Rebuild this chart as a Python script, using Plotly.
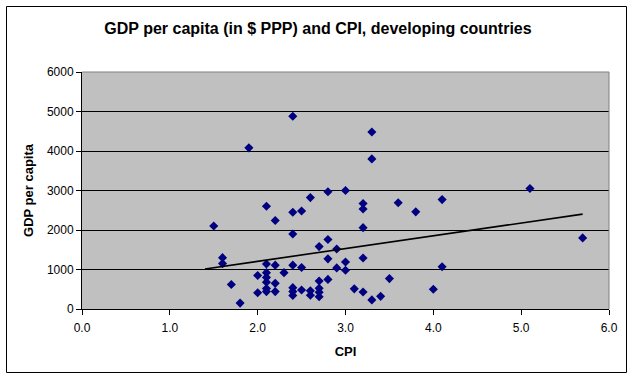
import numpy as np
import plotly.graph_objects as go

# CPI score and GDP per capita (in $ PPP)
cpi = [1.5, 1.6, 1.6, 1.7, 1.8, 1.9, 2.0, 2.0,
       2.1, 2.1, 2.1, 2.1, 2.1, 2.1, 2.1,
       2.2, 2.2, 2.2, 2.2, 2.3,
       2.4, 2.4, 2.4, 2.4, 2.4, 2.4, 2.4,
       2.5, 2.5, 2.5, 2.6, 2.6, 2.6,
       2.7, 2.7, 2.7, 2.7, 2.7,
       2.8, 2.8, 2.8, 2.8, 2.9, 2.9,
       3.0, 3.0, 3.0, 3.1,
       3.2, 3.2, 3.2, 3.2, 3.2,
       3.3, 3.3, 3.3, 3.4, 3.5, 3.6, 3.8,
       4.0, 4.1, 4.1, 5.1, 5.7]
gdp = [2100, 1300, 1150, 620, 150, 4080, 850, 410,
       2600, 1140, 920, 800, 680, 520, 440,
       2240, 1110, 650, 440, 920,
       4880, 2450, 1900, 1110, 540, 440, 340,
       2480, 1050, 480, 2820, 460, 350,
       1580, 710, 525, 425, 310,
       2970, 1760, 1270, 750, 1520, 1040,
       3000, 1190, 980, 510,
       2670, 2530, 2060, 1290, 430,
       4480, 3800, 230, 320, 770, 2690, 2460,
       500, 2770, 1070, 3050, 1800]

x_ticks = [0, 1, 2, 3, 4, 5, 6]
y_ticks = [0, 1000, 2000, 3000, 4000, 5000, 6000]

title_text = "GDP per capita (in $ PPP) and CPI, developing countries"
x_title = "CPI"
y_title = "GDP per capita"

# Linear trendline (least squares), with a small backward forecast like the Excel chart
trend_backcast = 0.1
slope, intercept = np.polyfit(cpi, gdp, 1)
tx = np.array([min(cpi) - trend_backcast, max(cpi)])
ty = slope * tx + intercept

FONT = "Liberation Sans, Arial, sans-serif"

fig = go.Figure()
fig.add_trace(go.Scatter(
    x=cpi, y=gdp, mode="markers",
    marker=dict(symbol="diamond", size=7, color="#000080", line=dict(width=0)),
    showlegend=False, hoverinfo="x+y"))
fig.add_trace(go.Scatter(
    x=tx, y=ty, mode="lines",
    line=dict(color="black", width=1.6),
    showlegend=False, hoverinfo="skip"))

L, R, T, B = 82, 24, 72, 70
W, H = 633, 379
pw, ph = W - L - R, H - T - B

def px_to_paper_x(px):
    return (px - L) / pw

def px_to_paper_y(py):
    return (H - B - py) / ph

fig.update_layout(
    width=W, height=H,
    margin=dict(l=L, r=R, t=T, b=B, pad=0),
    paper_bgcolor="white",
    plot_bgcolor="#C0C0C0",
    font=dict(family=FONT, size=12, color="black"),
    title=dict(text="<b>" + title_text + "</b>",
               x=px_to_paper_x(318), xref="paper", xanchor="center",
               y=1 - 28 / H, yref="container", yanchor="middle",
               font=dict(family=FONT, size=16, color="black")),
    xaxis=dict(range=[0, 6], tickvals=x_ticks, tickformat=".1f",
               showgrid=False, zeroline=False,
               showline=True, linecolor="black", linewidth=1,
               ticks="outside", ticklen=5, tickcolor="black", tickwidth=1,
               ticklabelstandoff=3,
               tickfont=dict(family=FONT, size=12, color="black"),
               title=dict(text="<b>" + x_title + "</b>", standoff=12,
                          font=dict(family=FONT, size=13, color="black"))),
    yaxis=dict(range=[0, 6000], tickvals=y_ticks,
               showgrid=True, gridcolor="black", gridwidth=1,
               zeroline=False,
               showline=True, linecolor="black", linewidth=1,
               ticks="outside", ticklen=5, tickcolor="black", tickwidth=1,
               tickfont=dict(family=FONT, size=12, color="black"),
               title=dict(text="<b>" + y_title + "</b>", standoff=10,
                          font=dict(family=FONT, size=13, color="black"))),
    shapes=[
        # plot-area border (top & right) in grey
        dict(type="line", xref="paper", yref="paper", x0=0, x1=1, y0=1, y1=1,
             line=dict(color="#808080", width=1), layer="above"),
        dict(type="line", xref="paper", yref="paper", x0=1, x1=1, y0=0, y1=1,
             line=dict(color="#808080", width=1), layer="above"),
        # outer chart frame
        dict(type="rect", xref="paper", yref="paper",
             x0=px_to_paper_x(6.5), x1=px_to_paper_x(626.5),
             y0=px_to_paper_y(372.5), y1=px_to_paper_y(6.5),
             line=dict(color="black", width=1), fillcolor="rgba(0,0,0,0)",
             layer="above"),
    ],
)

fig.write_html(
    "out.html",
    config={"displayModeBar": False},
    post_script="document.body.style.margin='0';document.body.style.overflow='hidden';",
)
